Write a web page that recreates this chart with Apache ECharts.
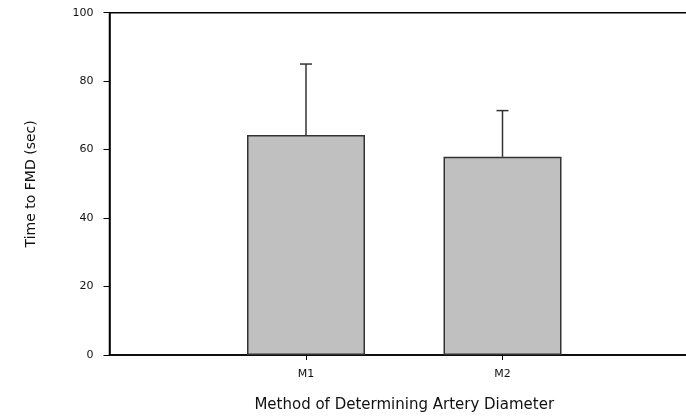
<!DOCTYPE html>
<html>
<head>
<meta charset="utf-8">
<script src="https://cdn.jsdelivr.net/npm/echarts@6/dist/echarts.min.js"></script>
<style>html,body{margin:0;padding:0;background:#fff;}#chart{width:686px;height:417px;}</style>
</head>
<body>
<div id="chart"></div>
<script>
const categories = ['', 'M1', 'M2', ''];
const meanValues = [null, 64.3, 57.9, null];
const errorUpper = [null, 85.0, 71.4, null];
const yTicks = { min: 0, max: 100, interval: 20 };

const chart = echarts.init(document.getElementById('chart'), null, { renderer: 'canvas' });
const font = '"DejaVu Sans", "Liberation Sans", Arial, sans-serif';

const errData = [];
categories.forEach((c, i) => {
  if (meanValues[i] != null) errData.push([i, meanValues[i], errorUpper[i]]);
});

chart.setOption({
  animation: false,
  backgroundColor: '#fff',
  grid: { left: 109.5, top: 12.7, width: 589.5, height: 342.3, outerBoundsMode: 'none', containLabel: false, show: true, borderColor: '#000', borderWidth: 1.5, backgroundColor: 'transparent' },
  xAxis: {
    type: 'category',
    data: categories,
    boundaryGap: false,
    name: 'Method of Determining Artery Diameter',
    nameLocation: 'middle',
    nameGap: 43,
    nameTextStyle: { fontFamily: font, fontSize: 15, color: '#111' },
    axisLine: { lineStyle: { color: '#000', width: 1.5 } },
    axisTick: { length: 5, lineStyle: { color: '#000', width: 1 }, interval: (i, v) => v !== '' },
    axisLabel: { fontFamily: font, fontSize: 11, color: '#111', margin: 14, interval: (i, v) => v !== '' },
    splitLine: { show: false }
  },
  yAxis: {
    type: 'value',
    min: yTicks.min, max: yTicks.max, interval: yTicks.interval,
    name: 'Time to FMD (sec)',
    nameLocation: 'middle',
    nameGap: 71,
    nameTextStyle: { fontFamily: font, fontSize: 14, color: '#111' },
    axisLine: { show: true, lineStyle: { color: '#000', width: 1.5 } },
    axisTick: { show: true, length: 6, lineStyle: { color: '#000', width: 1 } },
    axisLabel: { fontFamily: font, fontSize: 11, color: '#111', margin: 16 },
    splitLine: { show: false }
  },
  series: [
    {
      type: 'bar',
      data: meanValues,
      barWidth: 118,
      itemStyle: { color: '#c0c0c0', borderColor: '#333', borderWidth: 1.5 },
      z: 2
    },
    {
      type: 'custom',
      data: errData,
      z: 3,
      renderItem: function (params, api) {
        const x = api.value(0);
        const top = api.coord([x, api.value(1)]);
        const hi = api.coord([x, api.value(2)]);
        const half = 6;
        const style = { stroke: '#333', lineWidth: 1.5 };
        return {
          type: 'group',
          children: [
            { type: 'line', shape: { x1: top[0], y1: top[1], x2: hi[0], y2: hi[1] }, style },
            { type: 'line', shape: { x1: hi[0] - half, y1: hi[1], x2: hi[0] + half, y2: hi[1] }, style }
          ]
        };
      }
    }
  ]
});
</script>
</body>
</html>
